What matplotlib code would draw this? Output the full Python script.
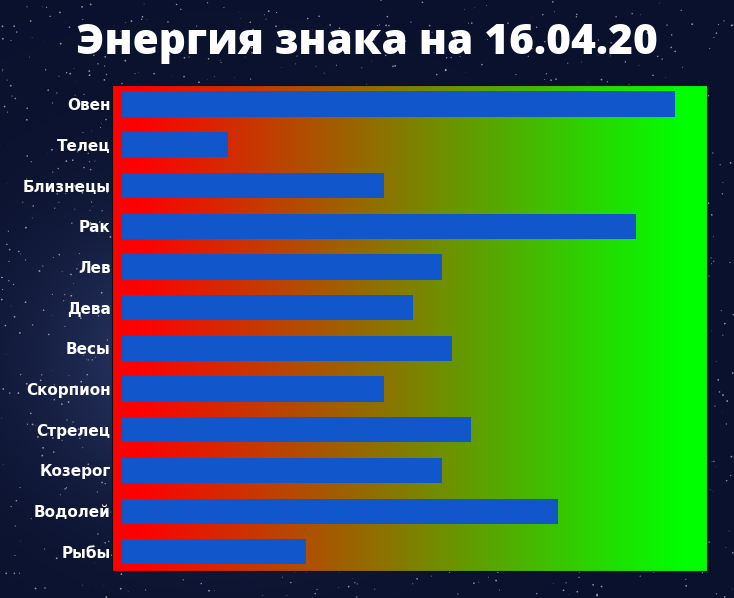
import numpy as np
import matplotlib.pyplot as plt
from matplotlib.colors import LinearSegmentedColormap

signs = ['Овен', 'Телец', 'Близнецы', 'Рак', 'Лев', 'Дева', 'Весы',
         'Скорпион', 'Стрелец', 'Козерог', 'Водолей', 'Рыбы']
energy = [57, 11, 27, 53, 33, 30, 34, 27, 36, 33, 45, 19]
title = 'Энергия знака на 16.04.20'

fig = plt.figure(figsize=(7.34, 5.98), dpi=100)

# night sky backdrop
bg = fig.add_axes([0, 0, 1, 1])
bg.axis('off')
yy, xx = np.mgrid[0:1:300j, 0:1:360j]
glow = np.exp(-((xx - 0.3) ** 2 + (yy - 0.4) ** 2) / 0.06)
sky = np.zeros((300, 360, 3))
sky[..., 0] = 0.04 + 0.14 * glow
sky[..., 1] = 0.07 + 0.16 * glow
sky[..., 2] = 0.18 + 0.24 * glow
bg.imshow(sky, extent=[0, 1, 0, 1], aspect='auto', origin='lower')
rng = np.random.default_rng(4)
sx, sy = rng.random(1500), rng.random(1500)
bg.scatter(sx, sy, s=rng.random(1500) * 1.8, c='white', alpha=0.55, lw=0)
bg.set_xlim(0, 1)
bg.set_ylim(0, 1)

fig.text(0.5, 0.928, title, ha='center', va='center', color='white',
         fontsize=30.5, fontweight='heavy', family='Open Sans')

ax = fig.add_axes([0.1526, 0.0452, 0.8106, 0.8127])
cmap = LinearSegmentedColormap.from_list('rg', [(0, '#ff0000'), (0.04, '#ff0000'),
                                                (0.96, '#00ff00'), (1, '#00ff00')])
ax.imshow(np.linspace(0, 1, 256)[None, :], cmap=cmap, aspect='auto',
          extent=[-1, 60.3, -0.47, 11.47], zorder=0)

y = np.arange(len(signs))
ax.barh(y, energy, height=0.62, color='#1256cc', zorder=2)
ax.set_xlim(-1, 60.3)
ax.set_ylim(11.47, -0.47)
ax.set_yticks(y)
ax.set_yticklabels(signs, color='white', fontsize=11, fontweight='bold',
                   family='DejaVu Sans')
ax.tick_params(axis='y', length=0, pad=1)
ax.set_xticks([])
for s in ax.spines.values():
    s.set_color('#111111')
    s.set_linewidth(0.8)

plt.savefig('out.png', dpi=100)
